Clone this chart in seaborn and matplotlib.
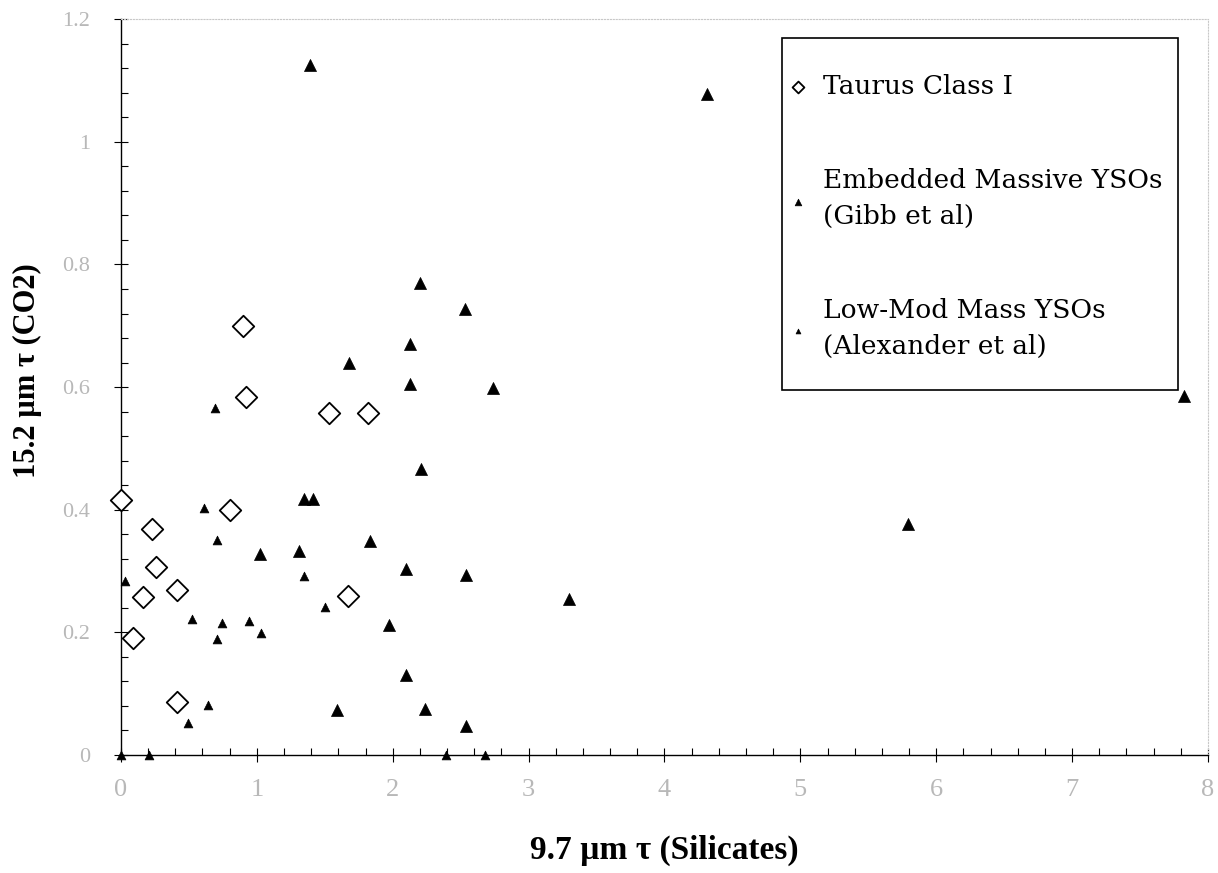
import pandas as pd
import seaborn as sns
import matplotlib.pyplot as plt
from matplotlib.patches import Rectangle
from matplotlib.ticker import MultipleLocator, FuncFormatter

# ---------------- data ---------------- #
taurus_x = [0.90, 0.92, 1.53, 1.82, 0.00, 0.80, 0.23, 0.26, 0.41, 0.16, 1.67, 0.09, 0.41]
taurus_y = [0.700, 0.584, 0.557, 0.558, 0.416, 0.399, 0.368, 0.306, 0.269, 0.257, 0.259, 0.190, 0.086]

gibb_x = [1.39, 4.31, 2.20, 2.53, 2.13, 1.68, 2.13, 2.74, 7.82, 2.21, 1.35, 1.41,
          5.79, 1.02, 1.31, 1.83, 2.10, 2.54, 3.30, 1.97, 2.10, 1.59, 2.24, 2.54]
gibb_y = [1.125, 1.078, 0.770, 0.727, 0.670, 0.639, 0.605, 0.599, 0.585, 0.466, 0.417, 0.417,
          0.376, 0.327, 0.332, 0.349, 0.303, 0.294, 0.255, 0.212, 0.130, 0.074, 0.075, 0.047]

alex_x = [0.69, 0.61, 0.71, 1.35, 0.03, 1.50, 0.52, 0.74, 0.94, 0.71, 1.03, 0.64, 0.49,
          0.00, 0.21, 2.39, 2.68]
alex_y = [0.566, 0.403, 0.351, 0.292, 0.283, 0.241, 0.222, 0.216, 0.218, 0.189, 0.199, 0.081, 0.052,
          0.000, 0.000, 0.000, 0.000]

lbl_taurus = "Taurus Class I"
lbl_gibb = "Embedded Massive YSOs\n(Gibb et al)"
lbl_alex = "Low-Mod Mass YSOs\n(Alexander et al)"

taurus = pd.DataFrame({"x": taurus_x, "y": taurus_y})
gibb = pd.DataFrame({"x": gibb_x, "y": gibb_y})
alex = pd.DataFrame({"x": alex_x, "y": alex_y})

# ---------------- plot ---------------- #
sns.set_theme(style="white")
plt.rcParams['font.family'] = ['Liberation Serif', 'DejaVu Serif']
plt.rcParams['text.color'] = "black"
plt.rcParams['axes.labelcolor'] = "black"

fig = plt.figure(figsize=(12.18, 8.73), dpi=100)
ax = fig.add_axes([0.0993, 0.1352, 0.8925, 0.8428])

sns.scatterplot(data=taurus, x="x", y="y", marker="D", s=120, facecolor="white",
                edgecolor="black", linewidth=1.3, label=lbl_taurus, ax=ax, clip_on=False, zorder=3)
sns.scatterplot(data=gibb, x="x", y="y", marker="^", s=75, color="black",
                edgecolor="black", linewidth=0.5, label=lbl_gibb, ax=ax, clip_on=False, zorder=3)
sns.scatterplot(data=alex, x="x", y="y", marker="^", s=40, color="black",
                edgecolor="black", linewidth=0.5, label=lbl_alex, ax=ax, clip_on=False, zorder=3)

ax.set(xlim=(0, 8), ylim=(0, 1.2))
ax.xaxis.set_major_locator(MultipleLocator(1))
ax.xaxis.set_minor_locator(MultipleLocator(0.2))
ax.yaxis.set_major_locator(MultipleLocator(0.2))
ax.yaxis.set_minor_locator(MultipleLocator(0.04))
ax.yaxis.set_major_formatter(FuncFormatter(lambda v, p: "%g" % round(v, 2)))
ax.tick_params(which="major", direction="inout", length=10, width=0.8, color="black",
               labelcolor="#b8b8b8", bottom=True, left=True)
ax.tick_params(axis="x", which="major", pad=12, labelsize=19)
ax.tick_params(axis="y", which="major", pad=17, labelsize=16)
ax.tick_params(which="minor", direction="in", length=5, width=0.8, color="black",
               bottom=True, left=True)

for s in ["left", "bottom"]:
    ax.spines[s].set_color("black")
    ax.spines[s].set_linewidth(1.0)
for s in ["top", "right"]:
    ax.spines[s].set_color("#c8c8c8")
    ax.spines[s].set_linestyle(":")
    ax.spines[s].set_linewidth(0.8)

ax.set_xlabel("9.7 µm τ (Silicates)", fontsize=24, fontweight="bold")
ax.set_ylabel("15.2 µm τ (CO2)", fontsize=22, fontweight="bold")
ax.xaxis.set_label_coords(0.5, -0.108)
ax.yaxis.set_label_coords(-0.073, 0.523)

# legend: text without frame, box drawn separately as in the original
leg = ax.legend(loc="upper left", bbox_to_anchor=(0.614, 0.925), frameon=False,
                prop={"family": "DejaVu Serif", "size": 19}, labelspacing=2.6,
                markerscale=0.55, handlelength=0.7, handletextpad=0.6,
                borderpad=0, borderaxespad=0)
for t in leg.get_texts():
    t.set_linespacing(1.55)
ax.add_patch(Rectangle((0.608, 0.496), 0.364, 0.478, transform=ax.transAxes,
                       fill=False, edgecolor="black", linewidth=1.2, zorder=4))

fig.savefig("out.png", dpi=100)
